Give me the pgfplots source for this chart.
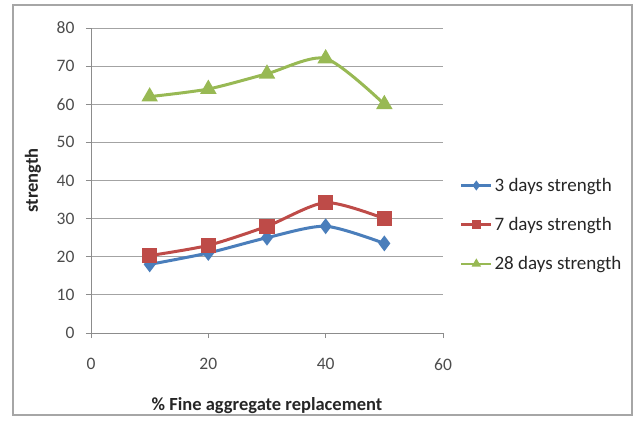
\documentclass[border=0pt]{standalone}
\usepackage{pgfplots}
\pgfplotsset{compat=1.18}
\usepackage{fontspec}
\setmainfont{Carlito}
\definecolor{xlblue}{HTML}{4A7EBB}
\definecolor{xlred}{HTML}{BE4B48}
\definecolor{xlgreen}{HTML}{98B954}
\definecolor{xlgrid}{HTML}{8C8C8C}
\begin{document}
\begin{tikzpicture}[x=1bp,y=1bp]
\path[use as bounding box] (-91,-88) rectangle (547,333);
\draw[black!35,line width=1.5bp] (-78,-82) rectangle (541,328);
\begin{axis}[
    at={(0,0)}, anchor=south west,
    scale only axis,
    width=352bp, height=305bp,
    xmin=0, xmax=60, ymin=0, ymax=80,
    xtick={0,20,...,60}, ytick={0,10,...,80},
    axis x line*=bottom, axis y line*=left,
    axis line style={xlgrid, -, line width=0.8bp},
    tick style={xlgrid, line width=0.8bp},
    tick align=outside,
    major tick length=5bp,
    ymajorgrids,
    grid style={xlgrid!80, line width=0.8bp},
    ticklabel style={font=\fontsize{17.5bp}{20bp}\selectfont, text=black!70},
    xticklabel style={yshift=-17bp},
    yticklabel style={xshift=-8bp},
    /pgf/number format/assume math mode=true,
    xlabel={\textbf{\% Fine aggregate replacement}},
    ylabel={\textbf{strength}},
    label style={font=\fontsize{18.5bp}{21bp}\selectfont, text=black!85},
    xlabel style={yshift=-20bp},
    ylabel style={yshift=9bp},
    legend style={at={(rel axis cs:1.048,0.515)}, anchor=north west,
        draw=none, fill=none, font=\fontsize{19bp}{22bp}\selectfont,
        text=black!85, row sep=20.5bp, inner sep=0pt,
        /tikz/every even column/.append style={column sep=1bp}},
    legend cell align=left,
    legend image code/.code={
        \draw[#1, line width=2.5bp, mark size=3bp, mark repeat=2, mark phase=2]
            plot coordinates {(0bp,0bp) (15bp,0bp) (30bp,0bp)};},
    every axis plot/.append style={line width=3bp, smooth, tension=0.45},
]
\addplot[xlblue, mark=diamond*, mark size=5.5bp, mark options={solid}] coordinates {
    (10,18) (20,21) (30,25) (40,28) (50,23.5)
};
\addlegendentry{3 days strength}
\addplot[xlred, mark=square*, mark size=6bp] coordinates {
    (10,20.3) (20,23) (30,28) (40,34.2) (50,30)
};
\addlegendentry{7 days strength}
\addplot[xlgreen, mark=triangle*, mark size=6.5bp] coordinates {
    (10,62) (20,64) (30,68) (40,72) (50,60)
};
\addlegendentry{28 days strength}
\end{axis}
\end{tikzpicture}
\end{document}
